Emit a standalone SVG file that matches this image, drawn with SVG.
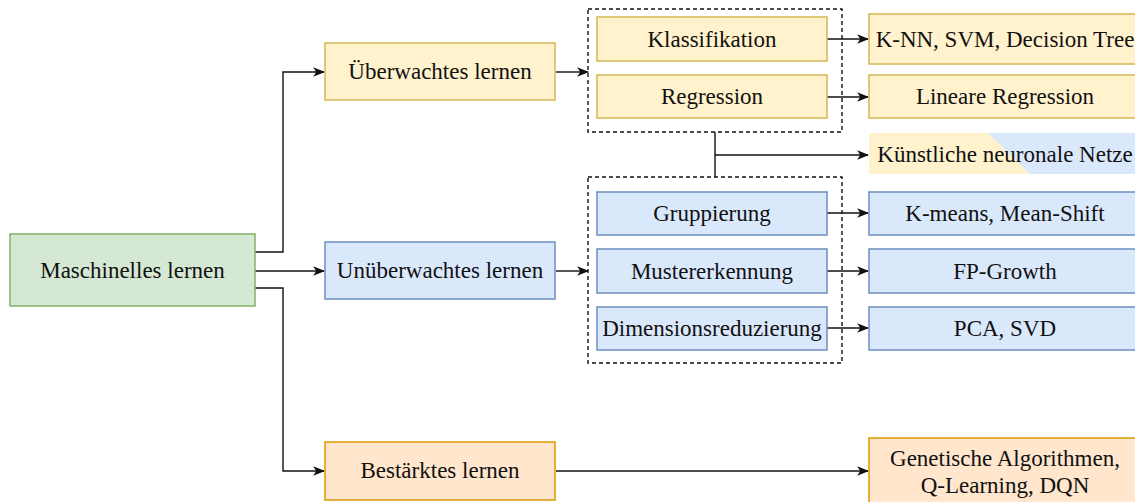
<svg xmlns="http://www.w3.org/2000/svg" width="1135" height="502" viewBox="0 0 1135 502">
<defs>
<style>
text{font-family:"Liberation Serif","Times New Roman",serif;font-size:23px;fill:#111;text-anchor:middle}
.y{fill:#fff2cc;stroke:#d6b656;stroke-width:1.5}
.b{fill:#dae8fc;stroke:#6c8ebf;stroke-width:1.5}
.g{fill:#d5e8d4;stroke:#82b366;stroke-width:1.5}
.o{fill:#ffe6cc;stroke:#d79b00;stroke-width:1.5}
.d{fill:none;stroke:#111;stroke-width:1.4;stroke-dasharray:4 3}
.e{fill:none;stroke:#111;stroke-width:1.4}
.a{marker-end:url(#ar)}
</style>
<marker id="ar" viewBox="0 0 10 10" refX="9" refY="5" markerWidth="12" markerHeight="12" markerUnits="userSpaceOnUse" orient="auto">
<path d="M0,1 L10,5 L0,9 L2.5,5 z" fill="#111"/>
</marker>
</defs>
<g id="connectors">
<path class="e a" d="M255,252 L283,252 L283,72 L324,72"/>
<path class="e a" d="M255,271 L324,271"/>
<path class="e a" d="M255,288 L283,288 L283,471 L324,471"/>
<path class="e a" d="M556,72 L588,72"/>
<path class="e a" d="M556,271 L588,271"/>
<path class="e a" d="M556,471 L868,471"/>
<path class="e a" d="M827,39 L868,39"/>
<path class="e a" d="M827,97 L868,97"/>
<path class="e a" d="M827,213 L868,213"/>
<path class="e a" d="M827,271 L868,271"/>
<path class="e a" d="M827,328 L868,328"/>
<path class="e" d="M715,132 L715,177"/>
<path class="e a" d="M715,155 L868,155"/>
</g>
<g id="group-supervised"><rect class="d" x="588" y="9" width="254" height="123"/></g>
<g id="group-unsupervised"><rect class="d" x="588" y="177" width="254" height="186"/></g>
<g id="ml"><rect class="g" x="10" y="234" width="245" height="72"/><text x="132.5" y="278">Maschinelles lernen</text></g>
<g id="sup"><rect class="y" x="325" y="43" width="230" height="57"/><text x="440" y="79">Überwachtes lernen</text></g>
<g id="unsup"><rect class="b" x="325" y="242" width="230" height="57"/><text x="440" y="278">Unüberwachtes lernen</text></g>
<g id="reinf"><rect class="o" x="325" y="442" width="230" height="58"/><text x="440" y="478">Bestärktes lernen</text></g>
<g id="klass"><rect class="y" x="597" y="17" width="230" height="44"/><text x="712" y="47">Klassifikation</text></g>
<g id="regr"><rect class="y" x="597" y="75" width="230" height="43"/><text x="712" y="104">Regression</text></g>
<g id="grup"><rect class="b" x="597" y="192" width="230" height="43"/><text x="712" y="221">Gruppierung</text></g>
<g id="muster"><rect class="b" x="597" y="249" width="230" height="44"/><text x="712" y="279">Mustererkennung</text></g>
<g id="dim"><rect class="b" x="597" y="307" width="230" height="43"/><text x="712" y="336">Dimensionsreduzierung</text></g>
<g id="knn"><rect class="y" x="869" y="14" width="272" height="50"/><text x="1005" y="47">K-NN, SVM, Decision Tree</text></g>
<g id="linreg"><rect class="y" x="869" y="75" width="272" height="43"/><text x="1005" y="104">Lineare Regression</text></g>
<g id="knn2"><rect x="869" y="133" width="272" height="41" fill="#fff2cc"/><polygon points="988,133 1141,133 1141,174 1030,174" fill="#dae8fc"/><text x="1005" y="162">Künstliche neuronale Netze</text></g>
<g id="kmeans"><rect class="b" x="869" y="192" width="272" height="43"/><text x="1005" y="221">K-means, Mean-Shift</text></g>
<g id="fpg"><rect class="b" x="869" y="249" width="272" height="44"/><text x="1005" y="279">FP-Growth</text></g>
<g id="pca"><rect class="b" x="869" y="307" width="272" height="43"/><text x="1005" y="336">PCA, SVD</text></g>
<g id="gen"><rect class="o" x="869" y="438" width="272" height="70"/><text x="1005" y="466">Genetische Algorithmen,</text><text x="1005" y="493">Q-Learning, DQN</text></g>
</svg>
